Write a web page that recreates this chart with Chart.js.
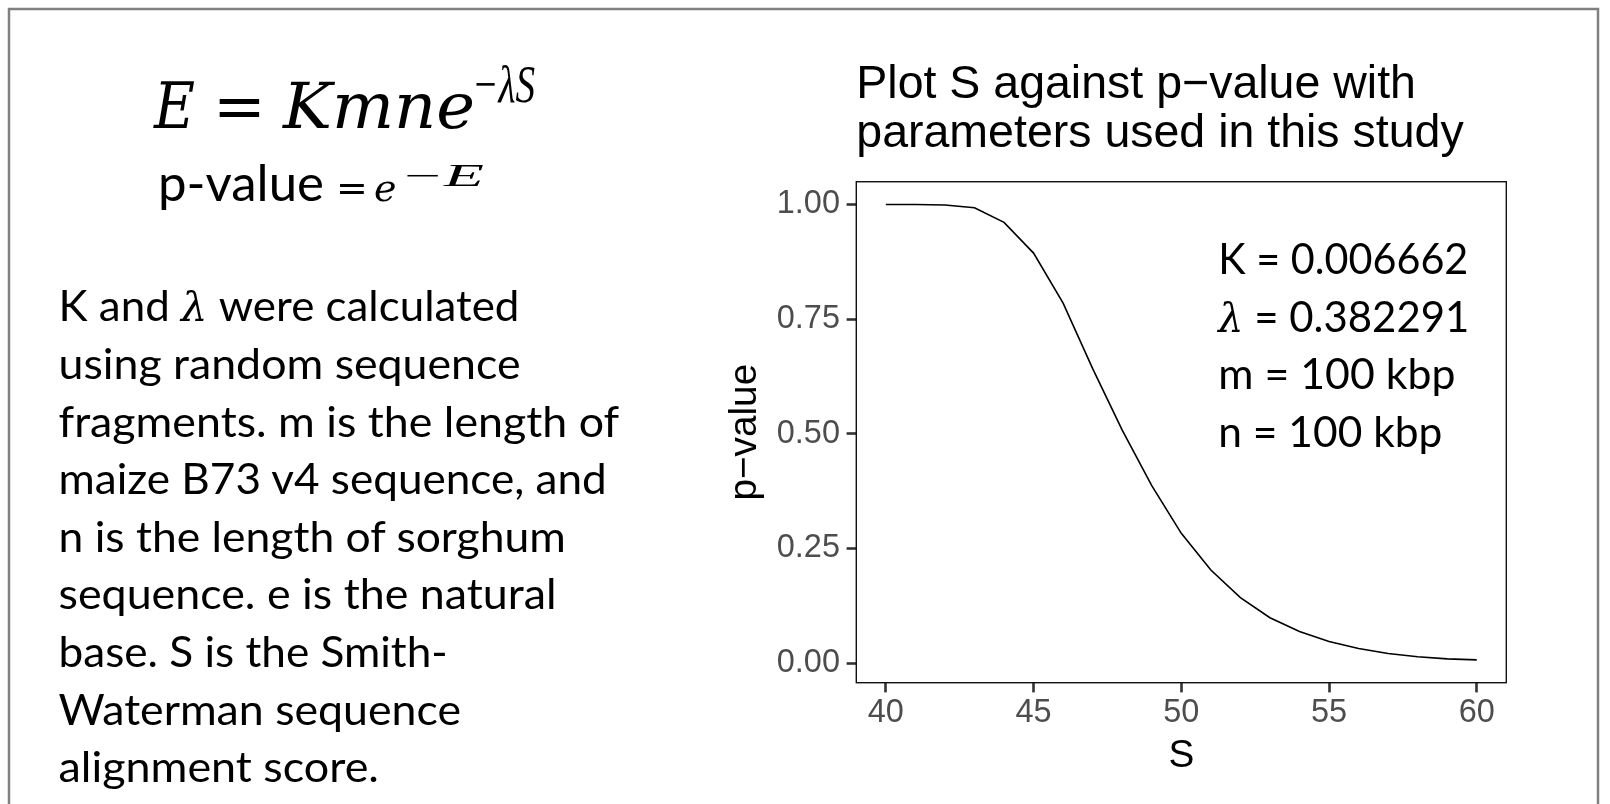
<!DOCTYPE html>
<html>
<head>
<meta charset="utf-8">
<script src="https://cdn.jsdelivr.net/npm/chart.js@4.4.0/dist/chart.umd.min.js"></script>
<style>
html, body { margin: 0; padding: 0; background: #ffffff; width: 1610px; height: 804px; overflow: hidden; }
#wrap { position: absolute; left: 0; top: 0; width: 1610px; height: 804px; }
#overlay { position: absolute; left: 0; top: 0; pointer-events: none; }
</style>
</head>
<body>
<div id="wrap"><canvas id="c"></canvas></div>
<svg id="overlay" width="1610" height="804" xmlns="http://www.w3.org/2000/svg">
  <rect x="9" y="9" width="1589" height="900" fill="none" stroke="#808080" stroke-width="2.5"/>
  <g id="texts"></g>
</svg>
<script>
// ---------------- data ----------------
const S_VALUES = [40, 41, 42, 43, 44, 45, 46, 47, 48, 49, 50, 51, 52, 53, 54, 55, 56, 57, 58, 59, 60];
const P_VALUES = [1.000, 1.000, 0.999, 0.993, 0.961, 0.894, 0.785, 0.642, 0.508, 0.387, 0.283,
                  0.203, 0.143, 0.099, 0.069, 0.047, 0.032, 0.021, 0.014, 0.0094, 0.0072];
const X_TICKS = [40, 45, 50, 55, 60];
const Y_TICKS = [0, 0.25, 0.5, 0.75, 1];
const TITLE_LINES = ['Plot S against p\u2212value with', 'parameters used in this study'];
const X_TITLE = 'S';
const Y_TITLE = 'p\u2212value';

const PARA_LINES = ['K and \u03bb were calculated', 'using random sequence', 'fragments. m is the length of',
  'maize B73 v4 sequence, and', 'n is the length of sorghum', 'sequence. e is the natural',
  'base. S is the Smith-', 'Waterman sequence', 'alignment score.'];
const PARAM_LINES = ['K = 0.006662', '\u03bb = 0.382291', 'm = 100 kbp', 'n = 100 kbp'];

// ---------------- chart ----------------
const SANS = "'Liberation Sans', Arial, Helvetica, sans-serif";

const panelBox = {
  id: 'panelBox',
  afterDatasetsDraw(chart) {
    const { ctx, chartArea: a } = chart;
    ctx.save();
    ctx.strokeStyle = '#111111';
    ctx.lineWidth = 1.4;
    ctx.strokeRect(a.left, a.top, a.right - a.left, a.bottom - a.top);
    ctx.restore();
  }
};

new Chart(document.getElementById('c'), {
  type: 'line',
  data: {
    datasets: [{
      data: S_VALUES.map((s, i) => ({ x: s, y: P_VALUES[i] })),
      borderColor: '#000000',
      borderWidth: 1.6,
      pointRadius: 0,
      tension: 0,
      fill: false
    }]
  },
  options: {
    responsive: true,
    maintainAspectRatio: false,
    animation: false,
    devicePixelRatio: 1,
    layout: { padding: { left: 700, right: 103.7, top: 0, bottom: 10 } },
    plugins: {
      legend: { display: false },
      tooltip: { enabled: false },
      title: {
        display: true,
        text: TITLE_LINES,
        align: 'start',
        fullSize: false,
        color: '#000000',
        font: { family: SANS, size: 46.5, weight: 'normal', lineHeight: 1.054 },
        padding: { top: 60.4, bottom: 23.3 }
      }
    },
    scales: {
      x: {
        type: 'linear',
        min: 39, max: 61,
        afterBuildTicks: (scale) => { scale.ticks = X_TICKS.map(v => ({ value: v })); },
        afterFit: (scale) => { scale.height = 111.3; },
        grid: { display: true, drawOnChartArea: false, drawTicks: true, tickLength: 9.7, tickColor: '#333333', tickWidth: 2.6 },
        border: { display: false },
        ticks: { color: '#4d4d4d', font: { family: SANS, size: 32.5, lineHeight: 1.2 }, padding: 1.5, maxRotation: 0, autoSkip: false },
        title: { display: true, text: X_TITLE, color: '#000000', font: { family: SANS, size: 38.75, lineHeight: 1.2 }, padding: { top: 0, bottom: 14.1 } }
      },
      y: {
        type: 'linear',
        min: -0.0426, max: 1.0496,
        afterBuildTicks: (scale) => { scale.ticks = Y_TICKS.map(v => ({ value: v })); },
        afterFit: (scale) => { scale.width = 156.3; },
        grid: { display: true, drawOnChartArea: false, drawTicks: true, tickLength: 9.7, tickColor: '#333333', tickWidth: 2.6 },
        border: { display: false },
        ticks: { color: '#4d4d4d', font: { family: SANS, size: 32.5 }, padding: 6.6, autoSkip: false,
                 callback: (v) => Number(v).toFixed(2) },
        title: { display: true, text: Y_TITLE, color: '#000000', font: { family: SANS, size: 38.75, lineHeight: 1.2 }, padding: { top: 22.4, bottom: 0 } }
      }
    }
  },
  plugins: [panelBox]
});

// ---------------- side texts (SVG, real text) ----------------
const NS = 'http://www.w3.org/2000/svg';
const G = document.getElementById('texts');
const LATO = "Lato, 'Open Sans', sans-serif";
const SERIF = "'DejaVu Serif', 'Liberation Serif', serif";
const TIMES = "'Liberation Serif', 'DejaVu Serif', serif";

// Calibri substitute (Lato): match Calibri cap height, then fit each line's width
const LATO_SIZE = 48 * 0.644 / 0.7165;
const PARA_WIDTHS = [461.0, 462.1, 560.6, 548.3, 507.2, 498.0, 389.2, 402.5, 320.4];
const PARAM_WIDTHS = [250, 251, 237, 224];

function addLatoLine(x, y, str, size, targetWidth) {
  const t = document.createElementNS(NS, 'text');
  t.setAttribute('x', 0); t.setAttribute('y', 0);
  t.setAttribute('font-family', LATO);
  t.setAttribute('font-size', size);
  t.setAttribute('fill', '#000');
  const parts = str.split('\u03bb');
  parts.forEach((p, i) => {
    if (i > 0) {
      const l = document.createElementNS(NS, 'tspan');
      l.setAttribute('font-family', SERIF);
      l.setAttribute('font-style', 'italic');
      l.setAttribute('font-size', size * 0.95);
      l.textContent = '\u03bb';
      t.appendChild(l);
    }
    if (p.length) {
      const s = document.createElementNS(NS, 'tspan');
      s.textContent = p;
      t.appendChild(s);
    }
  });
  G.appendChild(t);
  const w = t.getComputedTextLength();
  const sx = w > 0 ? targetWidth / w : 1;
  t.setAttribute('transform', `translate(${x},${y}) scale(${sx},1)`);
}

function addMath(x, y, str, size, italic, len, family) {
  const t = document.createElementNS(NS, 'text');
  t.setAttribute('x', x); t.setAttribute('y', y);
  t.setAttribute('font-family', family || SERIF);
  t.setAttribute('font-size', size);
  if (italic) t.setAttribute('font-style', 'italic');
  if (len) { t.setAttribute('textLength', len); t.setAttribute('lengthAdjust', 'spacingAndGlyphs'); }
  t.setAttribute('fill', '#000');
  t.textContent = str;
  G.appendChild(t);
}

PARA_LINES.forEach((line, i) => addLatoLine(58.5, 321.4 + 57.6 * i, line, LATO_SIZE, PARA_WIDTHS[i]));
PARAM_LINES.forEach((line, i) => addLatoLine(1218.3, 274 + 57.6 * i, line, LATO_SIZE, PARAM_WIDTHS[i]));

// formula 1: E = Kmne^{-λS}
addMath(154, 128, 'E', 63, true, 41);
addMath(213, 128, '=', 63, false);
addMath(283, 128, 'Kmne', 63, true, 192);
addMath(472, 102, '\u2212\u03bbS', 53, true, 63, TIMES);

// formula 2: p-value = e^{-E}
addLatoLine(158, 201, 'p-value', 55 * 0.644 / 0.7165, 166);
addMath(336, 201, '=', 38, false);
addMath(374, 201, 'e', 38, true);
addMath(400, 186, '\u2212E', 31, true, 84, TIMES);
</script>
</body>
</html>
